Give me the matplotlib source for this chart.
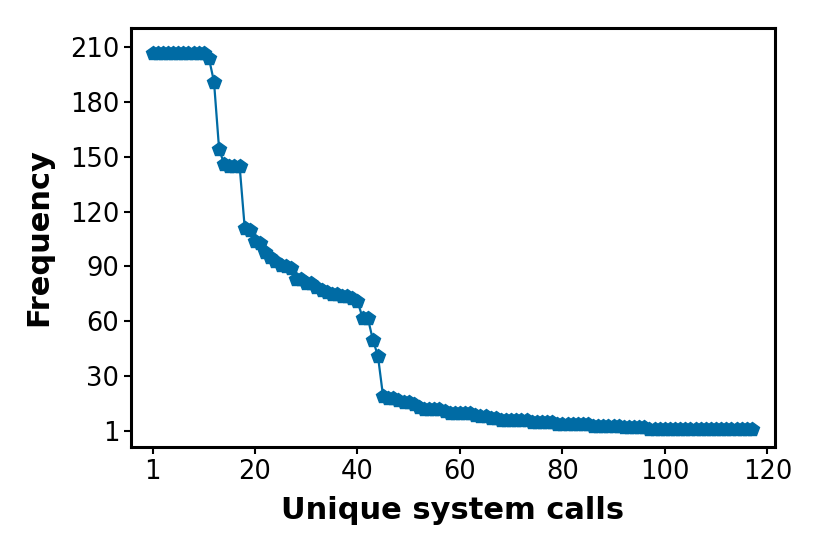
import numpy as np
import matplotlib
matplotlib.use("Agg")
import matplotlib.pyplot as plt

# Frequency of each unique system call, sorted descending
frequency = (
    [207] * 11 + [204, 191, 154, 146, 145, 145, 145,
    111, 110, 104, 103, 98, 95, 93, 91, 90, 89,
    83, 83, 81, 81, 79, 77, 76, 75, 75, 74, 74, 73, 71,
    62, 62, 50, 41,
    19, 18, 18, 17, 16, 16, 15, 13, 12, 12, 12, 12, 11,
    10, 10, 10, 10, 10, 9, 8, 8, 7, 7]
    + [6] * 6 + [5] * 5 + [4] * 7 + [3] * 6 + [2] * 5 + [1] * 21
)
x_ticks = [0, 20, 40, 60, 80, 100, 120]
x_tick_labels = ["1", "20", "40", "60", "80", "100", "120"]
y_ticks = [0, 30, 60, 90, 120, 150, 180, 210]
y_tick_labels = ["1", "30", "60", "90", "120", "150", "180", "210"]

x = np.arange(len(frequency))

fig = plt.figure(figsize=(8.3, 5.54), dpi=100)
ax = fig.add_axes([131 / 830, (554 - 447) / 554, (775 - 131) / 830, (447 - 28) / 554])
ax.plot(x, frequency, color="#006BA4", linewidth=1.6, marker="p", markersize=10)

ax.set_xticks(x_ticks)
ax.set_xticklabels(x_tick_labels)
ax.set_yticks(y_ticks)
ax.set_yticklabels(y_tick_labels)
ax.set_xlim(-4.2, 121.5)
ax.set_ylim(-8.75, 220.4)

ax.tick_params(axis="both", labelsize=18.5, length=5, width=1.5)
for s in ax.spines.values():
    s.set_linewidth(2.2)

ax.set_xlabel("Unique system calls", fontsize=22, fontweight="bold", labelpad=8)
ax.set_ylabel("Frequency", fontsize=22, fontweight="bold", labelpad=12)

fig.savefig("out.png", dpi=100)
